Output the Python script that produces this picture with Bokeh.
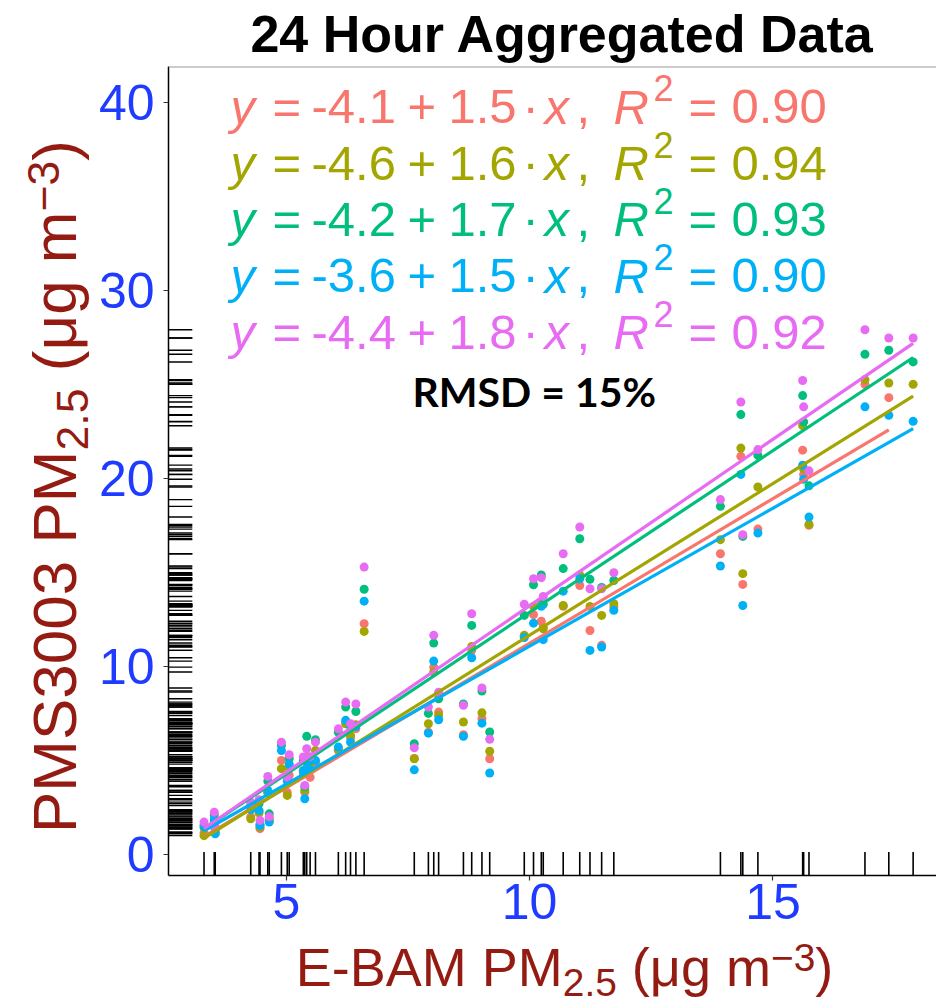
import math
import numpy as np
from bokeh.plotting import figure
from bokeh.layouts import column, row
from bokeh.models import Label, Span, Range1d, FixedTicker
from bokeh.embed import file_html
from bokeh.resources import INLINE

# ---------------- data ----------------
ebam = [3.31, 3.52, 3.54, 4.27, 4.44, 4.46, 4.62, 4.65, 4.90, 5.02,
        5.06, 5.35, 5.38, 5.42, 5.49, 5.60, 6.07, 6.22, 6.32, 6.43,
        6.60, 7.63, 7.92, 8.03, 8.13, 8.64, 8.81, 9.02, 9.18, 9.89,
        10.08, 10.24, 10.28, 10.69, 11.03, 11.24, 11.48, 11.73, 13.92, 14.34,
        14.38, 14.69, 15.61, 15.63, 15.74, 16.89, 17.38, 17.88]
nan = float("nan")
pms_red = [1.15, 1.7, 1.2, 2.0, 2.3, 1.37, 3.3, 1.8, 5.0, 3.3,
           4.2, 4.29, 3.31, 4.6, 4.1, 4.9, 5.53, 7.0, 6.2, 6.7,
           12.27, 5.1, 6.5, 9.96, 7.57, 6.37, 10.85, 7.22, 5.09, 11.6,
           12.75, 12.4, 12.1, 13.2, 14.3, 11.91, 11.12, 13.16, 15.99, 21.17,
           14.36, 17.3, 21.5, 20.2, 17.5, 25.0, 24.29, nan]
pms_olive = [1.0, 1.6, 1.15, 1.9, 2.2, 1.45, 3.3, 1.9, 4.56, 3.14,
             4.6, 4.4, 3.4, 5.2, 4.6, 5.53, 5.6, 6.95, 6.33, 6.9,
             11.86, 5.09, 6.95, 9.70, 7.39, 7.04, 11.06, 7.53, 5.49, 11.65,
             13.19, 13.3, 12.0, 13.24, 14.86, 13.19, 12.71, 13.33, 16.74, 21.61,
             14.93, 19.54, 22.8, 20.5, 17.55, 25.25, 25.07, 25.0]
pms_green = [1.45, 2.1, 1.35, 2.6, 2.7, 1.6, 3.9, 2.16, 5.8, 4.0,
             5.1, 5.0, 3.6, 6.28, 5.0, 6.1, 6.5, 7.84, 6.8, 7.6,
             14.1, 5.89, 7.5, 11.24, 8.28, 8.0, 12.18, 8.69, 6.51, 12.71,
             14.34, 14.86, 13.3, 15.2, 16.79, 14.63, 14.2, 14.57, 18.51, 23.39,
             16.91, 21.22, 24.4, 23.0, 19.6, 26.6, 26.81, 26.19]
pms_blue = [1.55, 1.85, 1.10, 2.38, 2.34, 1.54, 3.40, 1.72, 5.53, 3.9,
            4.8, 4.47, 2.96, 4.9, 4.5, 5.0, 5.71, 7.13, 5.97, 6.8,
            13.47, 4.5, 6.45, 10.28, 7.16, 6.28, 10.46, 6.98, 4.33, 11.53,
            12.3, 13.2, 11.42, 14.0, 14.66, 10.85, 11.03, 12.98, 15.34, 20.21,
            13.24, 17.09, 20.7, 19.95, 17.94, 23.8, 23.35, 23.03]
pms_pink = [1.72, 2.25, 1.45, 2.78, 2.91, 1.81, 4.15, 2.0, 5.97, 4.11,
            5.3, 5.18, 3.67, 5.62, 5.2, 5.97, 6.68, 8.10, 6.95, 8.0,
            15.28, 5.67, 7.84, 11.65, 8.63, 7.93, 12.80, 8.85, 6.12, 13.3,
            14.66, 14.72, 13.72, 15.99, 17.41, 14.13, 14.13, 14.98, 18.87, 24.06,
            17.0, 21.53, 25.2, 23.8, 20.4, 27.9, 27.46, 27.46]

series = [pms_red, pms_olive, pms_green, pms_blue, pms_pink]
colors = ["#F8766D", "#A3A500", "#00BF7D", "#00B0F6", "#E76BF3"]
intercept_labels = ["-4.1", "-4.6", "-4.2", "-3.6", "-4.4"]
slope_labels = ["1.5", "1.6", "1.7", "1.5", "1.8"]
r2_labels = ["0.90", "0.94", "0.93", "0.90", "0.92"]
x_ticks = [5, 10, 15]
y_ticks = [0, 10, 20, 30, 40]
title_text = "24 Hour Aggregated Data"
rmsd_text = "RMSD = 15%"
xlab_parts = [("E-BAM PM", "n"), ("2.5", "sub"), (" (\u03bcg m", "n"), ("\u22123", "sup"), (")", "n")]
ylab_parts = [("PMS3003 PM", "n"), ("2.5", "sub"), (" (\u03bcg m", "n"), ("\u22123", "sup"), (")", "n")]

# ---------------- layout constants (page pixels) ----------------
W, H = 936, 1001
FL, FT, FB = 166, 66, 875          # frame left / top / bottom
YLW = 95                            # width of left strip holding the y title
MAIN_BOTTOM = 940                   # bottom of the main figure
XR = (2.58, 18.36)
YR = (-1.12, 41.9)
TICK_BLUE = "#1E3BFF"
LABEL_RED = "#941B12"
FONT = "Liberation Sans"
MID = {"Liberation Sans": 0.3465, "Lato": 0.387}   # (ascent - descent) / 2 in em


def blank_fig(w, h):
    f = figure(width=w, height=h, x_range=Range1d(0, 1), y_range=Range1d(0, 1),
               x_axis_type=None, y_axis_type=None, output_backend="svg",
               toolbar_location=None, min_border=0)
    f.outline_line_color = None
    f.xgrid.visible = False
    f.ygrid.visible = False
    return f


def label(f, ox, oy, cx, cy, text, size, color, style="normal", font=FONT,
          vertical=False, align="left"):
    """Place a text whose baseline starts at page pixel (cx, cy); (ox, oy) is the
    page position of the bottom-left corner of figure f's frame."""
    m = MID.get(font, 0.35) * size
    if vertical:
        ax, ay, ang = cx - m, cy, math.pi / 2
    else:
        ax, ay, ang = cx, cy - m, 0.0
    f.add_layout(Label(x=ax - ox, y=oy - ay, x_units="screen", y_units="screen",
                       text=text, text_font=font, text_font_size=f"{size}px",
                       text_color=color, text_font_style=style, angle=ang,
                       text_align=align, text_baseline="middle"))


# ---------------- main plot ----------------
p = figure(width=W - YLW, height=MAIN_BOTTOM - FT, x_range=Range1d(*XR), y_range=Range1d(*YR),
           output_backend="svg", toolbar_location=None,
           min_border_left=FL - YLW, min_border_right=0,
           min_border_top=0, min_border_bottom=MAIN_BOTTOM - FB)
p.outline_line_color = None
p.xgrid.visible = False
p.ygrid.visible = False

for ax, ticks in ((p.xaxis, x_ticks), (p.yaxis, y_ticks)):
    ax.ticker = FixedTicker(ticks=ticks)
    ax.major_label_text_font = FONT
    ax.major_label_text_font_size = "50px"
    ax.major_label_text_color = TICK_BLUE
    ax.axis_line_color = "black"
    ax.axis_line_width = 1.5
    ax.major_tick_line_color = "#333333"
    ax.major_tick_line_width = 1.2
    ax.major_tick_out = 5
    ax.major_tick_in = 0
    ax.minor_tick_out = 0
    ax.minor_tick_in = 0
p.yaxis.major_label_standoff = 9
p.xaxis.major_label_standoff = 3

p.add_layout(Span(location=YR[1], dimension="width", line_color="#9a9a9a", line_width=2))

# rugs
xspan = XR[1] - XR[0]
yspan = YR[1] - YR[0]
all_y = [v for s in series for v in s if not math.isnan(v)]
p.segment(x0=[XR[0]] * len(all_y), x1=[XR[0] + 0.031 * xspan] * len(all_y),
          y0=all_y, y1=all_y, line_color="black", line_width=1.4)
p.segment(x0=ebam, x1=ebam, y0=[YR[0]] * len(ebam), y1=[YR[0] + 0.029 * yspan] * len(ebam),
          line_color="black", line_width=1.6)

# points
xa = np.array(ebam)
for s, c in zip(series, colors):
    p.scatter(ebam, s, size=9, color=c, line_color=None)

# least-squares lines
for s, c in zip(series, colors):
    ya = np.array(s)
    m = ~np.isnan(ya)
    b, a = np.polyfit(xa[m], ya[m], 1)
    xs = np.array([xa[m].min(), xa[m].max()])
    p.line(xs, a + b * xs, line_width=3.2, color=c)

# equations
EQ = 49
for i, c in enumerate(colors):
    by = 123.3 + 56.3 * i
    args = (p, FL, FB)
    label(*args, 228, by, "y", EQ, c, "italic")
    label(*args, 270, by, "=", EQ, c)
    label(*args, 309, by, intercept_labels[i], EQ, c)
    label(*args, 405, by, "+", EQ, c)
    label(*args, 446, by, slope_labels[i], EQ, c)
    label(*args, 520, by, "\u00b7", EQ, c)
    label(*args, 542, by, "x", EQ, c, "italic")
    label(*args, 574, by, ",", EQ, c)
    label(*args, 611, by, "R", EQ, c, "italic")
    label(*args, 651, by - 23, "2", 36, c)
    label(*args, 686, by, "=", EQ, c)
    label(*args, 729, by, r2_labels[i], EQ, c)

label(p, FL, FB, 410, 407, rmsd_text, 41, "black", "bold", font="Lato")

# ---------------- title strip ----------------
tf = blank_fig(W, FT)
label(tf, 0, FT, 562, 52, title_text, 52, "black", "bold", align="center")

# ---------------- axis titles ----------------
WID = {'P': 667, 'M': 833, 'S': 667, '3': 556, '0': 556, ' ': 278, '2': 556, '.': 278,
       '5': 556, '(': 333, ')': 333, '\u03bc': 576, 'g': 556, 'm': 833, '\u2212': 584,
       'E': 667, '-': 333, 'B': 667, 'A': 667}


def tw(t, size):
    return sum(WID.get(ch, 556) for ch in t) * size / 1000.0


def rich(f, ox, oy, parts, size, center, base, vertical):
    sf = 0.72
    total = sum(tw(t, size * (sf if k != "n" else 1)) for t, k in parts)
    pos = -total / 2
    for t, k in parts:
        s = size * (sf if k != "n" else 1)
        off = 0 if k == "n" else (0.2 * size if k == "sub" else -0.27 * size)
        lead = len(t) - len(t.lstrip(" "))
        pos += tw(" " * lead, s)
        core = t.strip(" ")
        if vertical:
            label(f, ox, oy, base + off, center - pos, core, s, LABEL_RED, vertical=True)
        else:
            label(f, ox, oy, center + pos, base + off, core, s, LABEL_RED)
        pos += tw(t[lead:], s)


# in a row Bokeh lines up the frames, so the strip's frame bottom sits at FB
yf = blank_fig(YLW, MAIN_BOTTOM - FT)
rich(yf, 0, FB, ylab_parts, 62, 486, 75, True)

xf = blank_fig(W, H - MAIN_BOTTOM)
rich(xf, 0, H, xlab_parts, 54, 564, 985, False)

layout = column(tf, row(yf, p, spacing=0), xf, spacing=0)
open("out.html", "w").write(file_html(layout, INLINE))
